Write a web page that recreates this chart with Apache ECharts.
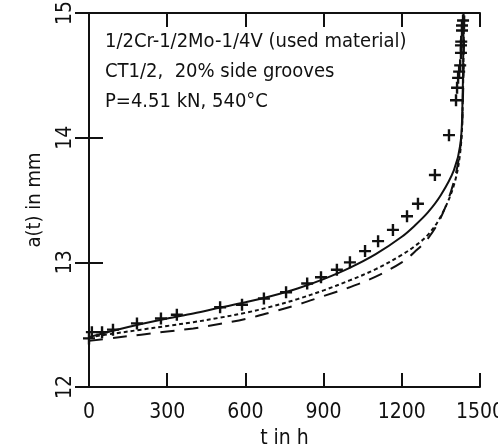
<!DOCTYPE html>
<html>
<head>
<meta charset="utf-8">
<script src="https://cdn.jsdelivr.net/npm/echarts@6/dist/echarts.min.js"></script>
<style>
  html, body { margin: 0; padding: 0; background: #fff; }
  #main { width: 498px; height: 444px; }
</style>
</head>
<body>
<div id="main"></div>
<script>
// measured crack length a(t) in mm vs time t in h
var markT = [0, 11, 50, 92, 184, 276, 337, 503, 587, 671, 756, 837, 890, 951, 1001, 1059, 1109, 1166, 1220, 1262, 1327, 1381, 1408, 1412, 1416, 1420, 1424, 1427, 1427, 1428, 1431, 1431, 1435];
var markA = [12.39, 12.44, 12.44, 12.46, 12.51, 12.55, 12.58, 12.64, 12.66, 12.71, 12.76, 12.83, 12.88, 12.94, 13.00, 13.09, 13.17, 13.26, 13.37, 13.47, 13.70, 14.02, 14.30, 14.40, 14.48, 14.53, 14.58, 14.68, 14.74, 14.77, 14.86, 14.90, 14.94];

// calculated curves
var solidT = [0, 100, 200, 300, 400, 500, 600, 700, 800, 900, 1000, 1100, 1200, 1250, 1300, 1350, 1400, 1425, 1433, 1437];
var solidA = [12.40, 12.455, 12.505, 12.55, 12.59, 12.635, 12.68, 12.73, 12.79, 12.865, 12.955, 13.065, 13.205, 13.295, 13.40, 13.54, 13.74, 13.95, 14.30, 15.00];

var dotT = [0, 100, 200, 300, 400, 500, 600, 700, 800, 900, 1000, 1100, 1200, 1250, 1300, 1350, 1400, 1425, 1434, 1438];
var dotA = [12.40, 12.43, 12.46, 12.49, 12.52, 12.555, 12.595, 12.645, 12.705, 12.775, 12.855, 12.945, 13.06, 13.13, 13.22, 13.37, 13.62, 13.90, 14.30, 15.00];

var dashT = [0, 100, 200, 300, 400, 500, 600, 700, 800, 900, 1000, 1100, 1200, 1250, 1300, 1350, 1400, 1426, 1435, 1440];
var dashA = [12.37, 12.395, 12.42, 12.445, 12.47, 12.505, 12.545, 12.60, 12.66, 12.73, 12.80, 12.885, 13.00, 13.085, 13.19, 13.36, 13.65, 13.95, 14.35, 15.00];

var xTicks = ['0', '300', '600', '900', '1200', '1500'];
var yTicks = ['12', '13', '14', '15'];

var notes = ['1/2Cr-1/2Mo-1/4V (used material)', 'CT1/2,  20% side grooves', 'P=4.51 kN, 540\u00B0C'];

var ink = '#111';
var font = '"Liberation Sans Narrow", "DejaVu Sans Condensed", sans-serif';

function pairs(xs, ys) {
    var out = [];
    for (var i = 0; i < xs.length; i++) {
        out.push([xs[i], ys[i]]);
    }
    return out;
}

var plus = 'path://M4,0h2v4h4v2h-4v4h-2v-4h-4v-2h4z';

var myChart = echarts.init(document.getElementById('main'));

var axLine = { lineStyle: { color: ink, width: 2 } };
var axTick = { inside: true, length: 14, lineStyle: { color: ink, width: 2 } };

myChart.setOption({
    backgroundColor: '#fff',
    animation: false,
    grid: { left: 89, right: 18, top: 13, bottom: 57, outerBoundsMode: 'none' },
    xAxis: [
        {
            type: 'value', min: 0, max: 1500, interval: 300, position: 'bottom',
            axisLine: axLine, axisTick: axTick, splitLine: { show: false },
            axisLabel: {
                margin: 15, color: ink, fontSize: 21, fontFamily: font,
                formatter: function (v) { return xTicks[Math.round(v / 300)]; }
            },
            name: 't in h', nameLocation: 'middle', nameGap: 38,
            nameTextStyle: { color: ink, fontSize: 21, fontFamily: font }
        },
        {
            type: 'value', min: 0, max: 1500, interval: 300, position: 'top',
            axisLine: axLine, axisTick: axTick, splitLine: { show: false },
            axisLabel: { show: false }
        }
    ],
    yAxis: [
        {
            type: 'value', min: 12, max: 15, interval: 1, position: 'left',
            axisLine: axLine, axisTick: axTick, splitLine: { show: false },
            axisLabel: {
                margin: 13, rotate: 90, color: ink, fontSize: 21, fontFamily: font,
                formatter: function (v) { return yTicks[Math.round(v - 12)]; }
            },
            name: 'a(t) in mm', nameLocation: 'middle', nameGap: 44,
            nameTextStyle: { color: ink, fontSize: 20, fontFamily: font }
        },
        {
            type: 'value', min: 12, max: 15, interval: 1, position: 'right',
            axisLine: axLine, axisTick: axTick, splitLine: { show: false },
            axisLabel: { show: false }
        }
    ],
    graphic: notes.map(function (s, i) {
        return {
            type: 'text', left: 105, top: 32 + i * 30,
            style: { text: s, fill: ink, fontSize: 20, fontFamily: font }
        };
    }),
    series: [
        {
            name: 'solid', type: 'line', data: pairs(solidT, solidA),
            showSymbol: false, smooth: 0.35,
            lineStyle: { color: ink, width: 2 }
        },
        {
            name: 'dotted', type: 'line', data: pairs(dotT, dotA),
            showSymbol: false, smooth: 0.35,
            lineStyle: { color: ink, width: 2, type: [4, 3] }
        },
        {
            name: 'dashed', type: 'line', data: pairs(dashT, dashA),
            showSymbol: false, smooth: 0.35,
            lineStyle: { color: ink, width: 2, type: [14, 10] }
        },
        {
            name: 'measured', type: 'scatter', data: pairs(markT, markA),
            symbol: plus, symbolSize: 12,
            itemStyle: { color: ink, opacity: 1 }
        }
    ]
});
</script>
</body>
</html>
